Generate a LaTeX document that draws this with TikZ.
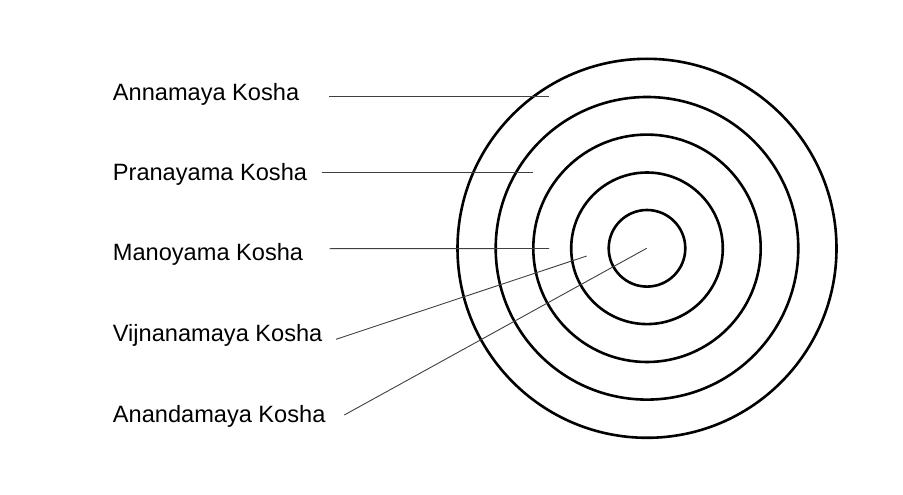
\documentclass[tikz,border=0pt]{standalone}
\usepackage{fontspec}
\setmainfont{Liberation Sans}
\begin{document}
\begin{tikzpicture}[x=1pt,y=-1pt,
  ring/.style={draw=black,line width=2.6pt,circle,inner sep=0pt,minimum size=#1},
  lbl/.style={anchor=base west,inner sep=0pt,font=\fontsize{23.6}{28}\selectfont},
  lead/.style={draw=black!75,line width=0.9pt}]
\useasboundingbox[fill=white] (0,0) rectangle (903,495);
\node[ring=379pt] (r1) at (647,248.3) {};
\node[ring=302.6pt] (r2) at (647,248.3) {};
\node[ring=227.4pt] (r3) at (647,248.3) {};
\node[ring=151.6pt] (r4) at (647,248.3) {};
\node[ring=76.6pt] (r5) at (647,248.3) {};
\node[lbl] (t1) at (112.7,100.7) {Annamaya Kosha};
\node[lbl] (t2) at (112.7,180.2) {Pranayama Kosha};
\node[lbl] (t3) at (112.7,260) {Manoyama Kosha};
\node[lbl] (t4) at (112.7,341.7) {Vijnanamaya Kosha};
\node[lbl] (t5) at (112.7,422.3) {Anandamaya Kosha};
\coordinate (s1) at (329.3,96.7);
\coordinate (s2) at (321.7,172.7);
\coordinate (s3) at (329.3,248.7);
\coordinate (s4) at (336,339.3);
\coordinate (s5) at (344.3,415);
\coordinate (e1) at (549,96.7);
\coordinate (e2) at (533.3,172.7);
\coordinate (e3) at (549,248.5);
\coordinate (e4) at (586.7,256);
\coordinate (e5) at (646.7,248.3);
\draw[lead] (s1) -- (e1);
\draw[lead] (s2) -- (e2);
\draw[lead] (s3) -- (e3);
\draw[lead] (s4) -- (e4);
\draw[lead] (s5) -- (e5);
\end{tikzpicture}
\end{document}
